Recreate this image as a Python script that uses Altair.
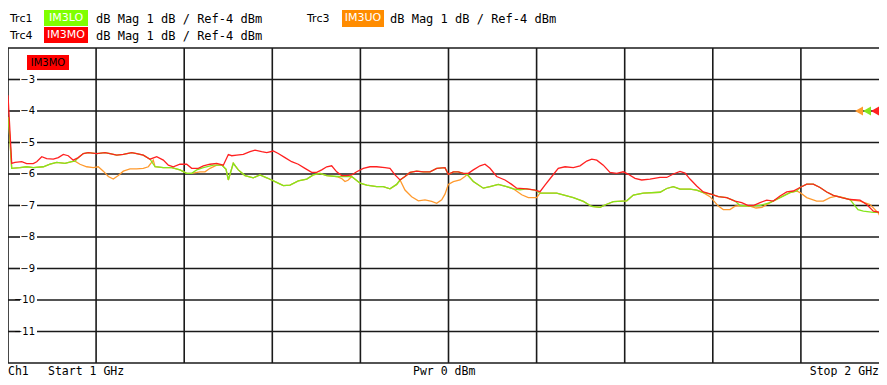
import altair as alt
import pandas as pd

# ---------------- data ----------------
red_f = [1.0000, 1.0042, 1.0079, 1.0156, 1.0212, 1.0287, 1.0326, 1.0383, 1.0439, 1.0514, 1.0571, 1.0628, 1.0684, 1.0741, 1.0798, 1.0855, 1.0911, 1.1007, 1.1101, 1.1158, 1.1234, 1.1309, 1.1404, 1.1461, 1.1536, 1.1612, 1.1688, 1.1763, 1.1820, 1.1876, 1.1952, 1.2028, 1.2085, 1.2160, 1.2217, 1.2293, 1.2369, 1.2444, 1.2501, 1.2539, 1.2596, 1.2671, 1.2747, 1.2804, 1.2879, 1.2937, 1.3011, 1.3068, 1.3144, 1.3220, 1.3295, 1.3371, 1.3447, 1.3504, 1.3561, 1.3618, 1.3674, 1.3731, 1.3788, 1.3845, 1.3901, 1.3958, 1.4033, 1.4109, 1.4185, 1.4279, 1.4336, 1.4393, 1.4450, 1.4506, 1.4563, 1.4639, 1.4714, 1.4790, 1.4866, 1.4960, 1.4998, 1.5055, 1.5111, 1.5168, 1.5225, 1.5282, 1.5358, 1.5414, 1.5471, 1.5547, 1.5641, 1.5717, 1.5774, 1.5888, 1.5982, 1.6039, 1.6095, 1.6172, 1.6246, 1.6323, 1.6417, 1.6493, 1.6569, 1.6626, 1.6683, 1.6757, 1.6833, 1.6909, 1.6984, 1.7041, 1.7117, 1.7193, 1.7287, 1.7401, 1.7477, 1.7552, 1.7628, 1.7685, 1.7741, 1.7817, 1.7892, 1.7988, 1.8063, 1.8158, 1.8252, 1.8328, 1.8403, 1.8460, 1.8536, 1.8612, 1.8687, 1.8763, 1.8839, 1.8914, 1.8990, 1.9066, 1.9141, 1.9217, 1.9293, 1.9368, 1.9464, 1.9558, 1.9671, 1.9747, 1.9822, 1.9898, 1.9978]
red_v = [-3.50, -5.66, -5.63, -5.61, -5.67, -5.67, -5.61, -5.45, -5.51, -5.53, -5.48, -5.38, -5.42, -5.56, -5.48, -5.35, -5.32, -5.35, -5.32, -5.35, -5.40, -5.38, -5.32, -5.35, -5.40, -5.53, -5.45, -5.56, -5.72, -5.77, -5.69, -5.69, -5.82, -5.82, -5.74, -5.69, -5.66, -5.72, -5.38, -5.42, -5.40, -5.38, -5.29, -5.24, -5.29, -5.32, -5.27, -5.35, -5.48, -5.61, -5.69, -5.82, -5.95, -5.95, -5.87, -5.77, -5.74, -5.93, -6.05, -6.05, -6.03, -5.93, -5.82, -5.77, -5.77, -5.80, -5.82, -6.03, -6.19, -6.08, -5.95, -5.91, -5.93, -5.93, -5.82, -5.80, -6.01, -5.93, -5.93, -5.98, -5.98, -5.87, -5.74, -5.69, -5.82, -6.08, -6.19, -6.33, -6.45, -6.47, -6.51, -6.56, -6.35, -6.08, -5.82, -5.77, -5.80, -5.74, -5.59, -5.53, -5.56, -5.72, -5.95, -5.98, -5.93, -6.01, -6.14, -6.19, -6.16, -6.11, -6.11, -6.00, -5.92, -5.97, -6.16, -6.38, -6.57, -6.65, -6.72, -6.75, -6.86, -6.91, -7.00, -7.00, -6.91, -6.83, -6.86, -6.70, -6.57, -6.54, -6.43, -6.32, -6.32, -6.43, -6.57, -6.68, -6.75, -6.81, -6.83, -6.97, -7.18, -7.22, -7.04]

green_f = [1.0006, 1.0042, 1.0136, 1.0212, 1.0287, 1.0401, 1.0477, 1.0553, 1.0647, 1.0723, 1.0761, 1.0798, 1.0855, 1.0911, 1.1007, 1.1101, 1.1158, 1.1234, 1.1309, 1.1404, 1.1461, 1.1536, 1.1612, 1.1669, 1.1763, 1.1858, 1.1952, 1.2028, 1.2085, 1.2142, 1.2217, 1.2330, 1.2429, 1.2475, 1.2501, 1.2557, 1.2614, 1.2690, 1.2784, 1.2860, 1.2937, 1.3031, 1.3125, 1.3201, 1.3295, 1.3391, 1.3465, 1.3542, 1.3618, 1.3731, 1.3806, 1.3901, 1.3996, 1.4072, 1.4185, 1.4260, 1.4336, 1.4412, 1.4450, 1.4506, 1.4563, 1.4639, 1.4714, 1.4790, 1.4866, 1.4960, 1.4998, 1.5055, 1.5111, 1.5168, 1.5207, 1.5282, 1.5395, 1.5471, 1.5565, 1.5660, 1.5736, 1.5812, 1.5888, 1.5982, 1.6039, 1.6228, 1.6417, 1.6531, 1.6626, 1.6720, 1.6796, 1.6871, 1.7023, 1.7098, 1.7211, 1.7401, 1.7477, 1.7552, 1.7628, 1.7741, 1.7817, 1.7892, 1.7988, 1.8063, 1.8158, 1.8252, 1.8309, 1.8422, 1.8536, 1.8649, 1.8763, 1.8876, 1.8952, 1.8990, 1.9066, 1.9141, 1.9217, 1.9293, 1.9368, 1.9464, 1.9558, 1.9648, 1.9709, 1.9822, 1.9898, 1.9978]
green_v = [-4.20, -5.82, -5.80, -5.77, -5.80, -5.77, -5.69, -5.63, -5.66, -5.61, -5.59, -5.48, -5.35, -5.32, -5.35, -5.32, -5.35, -5.40, -5.38, -5.32, -5.35, -5.40, -5.53, -5.77, -5.80, -5.80, -5.87, -5.98, -5.98, -5.87, -5.80, -5.72, -5.72, -5.85, -6.19, -5.66, -5.87, -6.05, -6.12, -6.03, -6.12, -6.24, -6.37, -6.35, -6.22, -6.16, -6.03, -5.98, -6.05, -6.08, -6.08, -6.08, -6.29, -6.35, -6.40, -6.40, -6.47, -6.33, -6.19, -6.08, -5.95, -5.91, -5.93, -5.93, -5.82, -5.80, -6.01, -5.93, -5.93, -5.98, -6.01, -6.24, -6.45, -6.40, -6.33, -6.40, -6.47, -6.50, -6.47, -6.51, -6.61, -6.61, -6.75, -6.87, -7.03, -7.06, -6.96, -6.88, -6.85, -6.67, -6.61, -6.58, -6.46, -6.40, -6.48, -6.48, -6.51, -6.59, -6.65, -6.72, -6.75, -6.86, -7.00, -7.02, -7.00, -6.91, -6.75, -6.59, -6.54, -6.43, -6.32, -6.32, -6.43, -6.57, -6.68, -6.75, -6.81, -7.13, -7.18, -7.22, -7.22, -7.25]

orange_f = [1.0006, 1.0042, 1.0136, 1.0212, 1.0287, 1.0401, 1.0477, 1.0553, 1.0647, 1.0723, 1.0761, 1.0817, 1.0893, 1.0968, 1.1025, 1.1082, 1.1139, 1.1195, 1.1252, 1.1309, 1.1385, 1.1461, 1.1536, 1.1593, 1.1649, 1.1669, 1.1763, 1.1858, 1.1952, 1.2028, 1.2085, 1.2179, 1.2236, 1.2293, 1.2369, 1.2429, 1.2475, 1.2501, 1.2557, 1.2614, 1.2690, 1.2784, 1.2860, 1.2937, 1.3031, 1.3125, 1.3201, 1.3295, 1.3391, 1.3465, 1.3542, 1.3618, 1.3731, 1.3791, 1.3825, 1.3859, 1.3901, 1.3996, 1.4072, 1.4185, 1.4260, 1.4336, 1.4412, 1.4450, 1.4506, 1.4582, 1.4658, 1.4733, 1.4809, 1.4866, 1.4923, 1.4960, 1.4998, 1.5055, 1.5131, 1.5187, 1.5214, 1.5282, 1.5395, 1.5471, 1.5565, 1.5660, 1.5736, 1.5755, 1.5831, 1.5906, 1.6001, 1.6039, 1.6228, 1.6417, 1.6531, 1.6626, 1.6720, 1.6796, 1.6871, 1.7023, 1.7098, 1.7211, 1.7401, 1.7477, 1.7552, 1.7628, 1.7741, 1.7817, 1.7892, 1.7968, 1.8063, 1.8119, 1.8195, 1.8252, 1.8309, 1.8422, 1.8491, 1.8558, 1.8649, 1.8763, 1.8876, 1.8952, 1.8990, 1.9066, 1.9179, 1.9254, 1.9331, 1.9407, 1.9482, 1.9558, 1.9672, 1.9785, 1.9879, 1.9936, 1.9978]
orange_v = [-4.20, -5.82, -5.80, -5.77, -5.80, -5.77, -5.69, -5.63, -5.66, -5.61, -5.59, -5.69, -5.77, -5.80, -5.77, -5.91, -6.08, -6.16, -6.05, -5.91, -5.84, -5.84, -5.82, -5.77, -5.56, -5.77, -5.80, -5.80, -5.87, -5.98, -5.98, -5.93, -5.93, -5.82, -5.72, -5.72, -5.85, -6.19, -5.66, -5.87, -6.05, -6.12, -6.03, -6.12, -6.24, -6.37, -6.35, -6.22, -6.16, -6.03, -5.98, -6.05, -6.08, -6.15, -6.24, -6.20, -6.08, -6.29, -6.35, -6.40, -6.40, -6.47, -6.33, -6.19, -6.51, -6.72, -6.85, -6.82, -6.87, -6.93, -6.82, -6.64, -6.33, -6.24, -6.19, -6.08, -6.01, -6.24, -6.45, -6.40, -6.33, -6.40, -6.47, -6.51, -6.66, -6.75, -6.75, -6.61, -6.61, -6.75, -6.87, -7.03, -7.06, -6.96, -6.88, -6.85, -6.67, -6.61, -6.58, -6.46, -6.40, -6.48, -6.48, -6.51, -6.59, -6.72, -7.02, -7.13, -7.13, -7.02, -7.00, -7.02, -7.08, -7.06, -6.91, -6.75, -6.59, -6.54, -6.59, -6.75, -6.86, -6.86, -6.75, -6.70, -6.75, -6.81, -6.86, -6.97, -7.24, -7.56, -7.83]

x_grid = [1.0, 1.1, 1.2, 1.3, 1.4, 1.5, 1.6, 1.7, 1.8, 1.9]
y_ticks = [-3, -4, -5, -6, -7, -8, -9, -10, -11]
y_border = [-2, -12]
ref_level = [-4]

trace_ids = ["Trc1", "Trc4", "Trc3"]
trace_names = ["IM3LO", "IM3MO", "IM3UO"]
scale_text = "dB Mag 1 dB / Ref-4 dBm"
footer = ["Ch1", "Start 1 GHz", "Pwr 0 dBm", "Stop 2 GHz"]

# ---------------- styling ----------------
FONT = "DejaVu Sans"
MONO = "DejaVu Sans Mono"
RED, GREEN, ORANGE = "#ff2020", "#84e61c", "#ff9a2e"
RED_BOX, GREEN_BOX, ORANGE_BOX = "#ff0000", "#80ff00", "#ff8c00"
GRID = "#1a1a1a"
W, H = 871, 315
XMAX = 1 + 871 / 881   # grid pitch of the instrument: 88.1 px per 100 MHz

xs = alt.Scale(domain=[1, XMAX], nice=False, zero=False)
ys = alt.Scale(domain=[-12, -2], nice=False, zero=False)


def trace(f, v, color):
    df = pd.DataFrame({"f": f, "v": v})
    return alt.Chart(df).mark_line(color=color, strokeWidth=1.3, clip=True).encode(
        x=alt.X("f:Q", scale=xs, axis=None),
        y=alt.Y("v:Q", scale=ys, axis=None),
        order="f:Q",
    )


def txt(s, x, y, color="black", align="left", size=11, font=FONT, weight="normal"):
    return alt.Chart(pd.DataFrame({"t": [s]})).mark_text(
        align=align, baseline="middle", font=font, fontSize=size,
        color=color, fontWeight=weight
    ).encode(x=alt.value(x), y=alt.value(y), text="t:N")


def box(x1, x2, y1, y2, color):
    return alt.Chart(pd.DataFrame({"a": [0]})).mark_rect(color=color).encode(
        x=alt.value(x1), x2=alt.value(x2), y=alt.value(y1), y2=alt.value(y2)
    )


# grid
vgrid = alt.Chart(pd.DataFrame({"f": x_grid})).mark_rule(color=GRID, strokeWidth=1.6).encode(
    x=alt.X("f:Q", scale=xs, axis=None))
ydf = pd.DataFrame({"v": y_ticks})
hgrid_l = alt.Chart(ydf).mark_rule(color=GRID, strokeWidth=1.6).encode(
    y=alt.Y("v:Q", scale=ys, axis=None), x=alt.value(0), x2=alt.value(12))
hgrid_r = alt.Chart(ydf).mark_rule(color=GRID, strokeWidth=1.6).encode(
    y=alt.Y("v:Q", scale=ys, axis=None), x=alt.value(29), x2=alt.value(W))
hborder = alt.Chart(pd.DataFrame({"v": y_border})).mark_rule(color=GRID, strokeWidth=1.6).encode(
    y=alt.Y("v:Q", scale=ys, axis=None), x=alt.value(0), x2=alt.value(W))
ylab = alt.Chart(ydf).mark_text(align="right", baseline="middle", font=FONT, fontSize=10,
                                color="black").encode(
    y=alt.Y("v:Q", scale=ys, axis=None), x=alt.value(27), text="v:Q")

# reference level markers
rdf = pd.DataFrame({"v": ref_level})
def marker(x, color):
    return alt.Chart(rdf).mark_point(shape="triangle-left", filled=True, size=85,
                                     color=color, opacity=1).encode(
        y=alt.Y("v:Q", scale=ys, axis=None), x=alt.value(x))

FY = 324  # footer row (plot coords)
layers = [
    vgrid, hgrid_l, hgrid_r, hborder, ylab,
    trace(orange_f, orange_v, ORANGE),
    trace(green_f, green_v, GREEN),
    trace(red_f, red_v, RED),
    marker(851, ORANGE), marker(859, GREEN), marker(867, RED),
    # header row 1
    txt(trace_ids[0], 2, -29),
    box(36, 80, -38, -22, GREEN_BOX), txt(trace_names[0], 58, -30, "white", "center"),
    txt(scale_text, 88, -29, size=12, font=MONO),
    txt(trace_ids[2], 299, -29),
    box(334, 376, -38, -21, ORANGE_BOX), txt(trace_names[2], 355, -30, "white", "center"),
    txt(scale_text, 382, -29, size=12, font=MONO),
    # header row 2
    txt(trace_ids[1], 2, -12),
    box(36, 80, -21, -5, RED_BOX), txt(trace_names[1], 58, -13, "white", "center"),
    txt(scale_text, 88, -12, size=12, font=MONO),
    # in-plot label
    box(19, 61, 7, 22, RED_BOX), txt(trace_names[1], 40, 14.5, "black", "center", 10),
    # footer
    txt(footer[0], 0, FY, size=11.5, font=MONO),
    txt(footer[1], 40, FY, size=11.5, font=MONO),
    txt(footer[2], 405, FY, size=11.5, font=MONO),
    txt(footer[3], W, FY, align="right", size=11.5, font=MONO),
]

chart = alt.layer(*layers).properties(
    width=W, height=H,
    padding={"left": 0, "top": 40, "right": 0, "bottom": 14},
    autosize="none",
    background="white",
).configure_view(stroke=None)

chart.save("out.html", embed_options={"renderer": "svg", "actions": False})
